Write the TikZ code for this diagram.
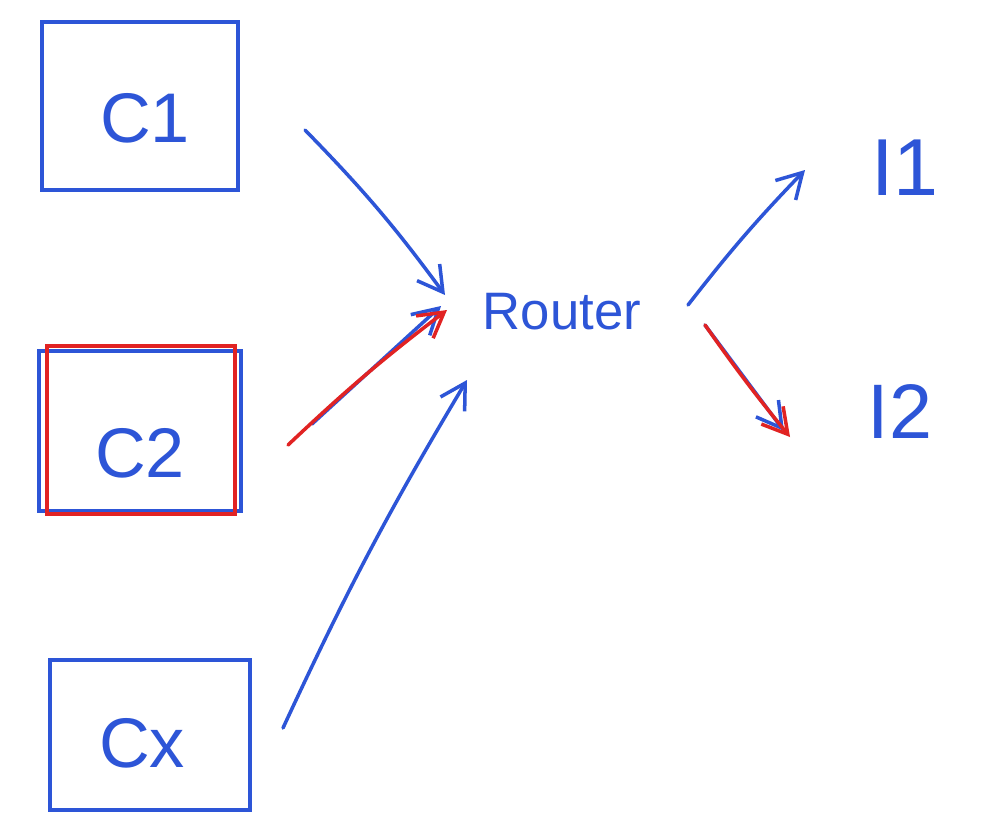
\documentclass[tikz,border=0pt]{standalone}
\usepackage{fontspec}
\setmainfont{Liberation Sans}
\usetikzlibrary{arrows.meta}

\definecolor{penblue}{RGB}{45,85,215}
\definecolor{penred}{RGB}{225,35,35}

\begin{document}
\begin{tikzpicture}[x=0.02cm, y=-0.02cm,
		pen/.style={line width=2pt, line cap=round, penblue},
		redpen/.style={line width=2pt, line cap=round, penred},
		arr/.style={-{Straight Barb[length=14pt, width=16pt, line width=2pt]}},
		box/.style={draw, line width=2pt, penblue, inner sep=0pt},
		lbl/.style={text=penblue, font=\fontsize{40}{48}\selectfont}]

		% Frame of the page
		\useasboundingbox[fill=white] (0,0) rectangle (990,838);

		% Client boxes
		\node[box, minimum width=3.92cm, minimum height=3.36cm] (c1box) at (140,106) {};
		\node[box, minimum width=4.04cm, minimum height=3.2cm] (c2box) at (140,431) {};
		\node[box, penred, minimum width=3.76cm, minimum height=3.36cm] (c2red) at (141,430) {};
		\node[box, minimum width=4.0cm, minimum height=3.0cm] (cxbox) at (150,735) {};

		% Client labels
		\node[lbl] (c1) at (145,118) {C1};
		\node[lbl] (c2) at (140,453) {C2};
		\node[lbl] (cx) at (142,743) {Cx};

		% Router and instances
		\node[lbl, font=\fontsize{30}{36}\selectfont] (router) at (562,312) {Router};
		\node[lbl, font=\fontsize{46}{54}\selectfont] (i1) at (905,168) {I1};
		\node[lbl, font=\fontsize{44}{52}\selectfont] (i2) at (900,412) {I2};

		% Free ends of the arrows
		\coordinate (c1out) at (305,130);
		\coordinate (c2out) at (288,445);
		\coordinate (c2outb) at (312,424);
		\coordinate (cxout) at (283,728);
		\coordinate (rin1) at (445,295);
		\coordinate (rin2) at (447,310);
		\coordinate (rin2b) at (441,306);
		\coordinate (rin3) at (467,380);
		\coordinate (rout1) at (688,305);
		\coordinate (rout2) at (705,325);
		\coordinate (i1in) at (805,170);
		\coordinate (i2in) at (790,437);
		\coordinate (i2inb) at (784,431);

		% Clients to router
		\draw[pen, arr] (c1out) to[bend left=4] (rin1);
		\draw[pen, arr] (c2outb) -- (rin2b);
		\draw[redpen, arr] (c2out) to[bend left=3] (rin2);
		\draw[pen, arr] (cxout) to[bend left=3] (rin3);

		% Router to instances
		\draw[pen, arr] (rout1) to[bend left=3] (i1in);
		\draw[pen, arr] (rout2) -- (i2inb);
		\draw[redpen, arr] (rout2) to[bend right=2] (i2in);
	\end{tikzpicture}
\end{document}
